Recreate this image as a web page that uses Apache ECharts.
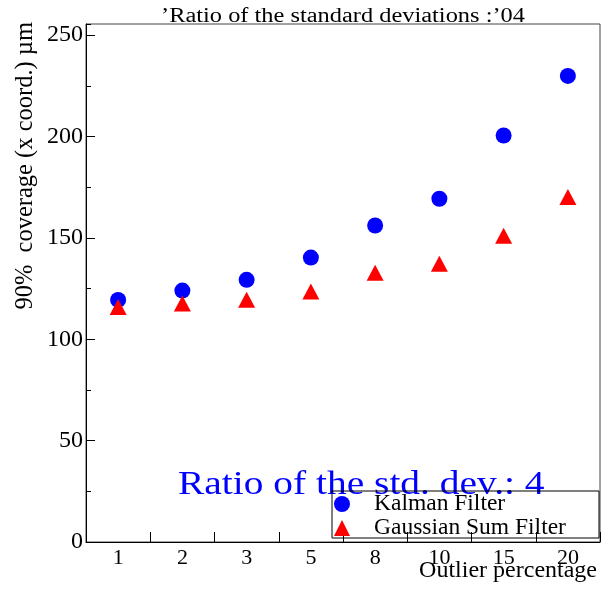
<!DOCTYPE html>
<html>
<head>
<meta charset="utf-8">
<script src="https://cdn.jsdelivr.net/npm/echarts@6/dist/echarts.min.js"></script>
<style>
html,body{margin:0;padding:0;background:#fff;}
#chart{width:601px;height:590px;}
</style>
</head>
<body>
<div id="chart"></div>
<script>
var categories = ['1', '2', '3', '5', '8', '10', '15', '20'];
var kalmanValues = [119.4, 124.0, 129.3, 140.3, 156.1, 169.3, 200.5, 229.9];
var gsfValues = [115.9, 117.6, 119.5, 123.6, 132.8, 137.3, 151.1, 170.2];
var seriesNames = ['Kalman Filter', 'Gaussian Sum Filter'];
var titleText = "\u2019Ratio of the standard deviations :\u201904";
var yTitle = '90%  coverage (x coord.) \u00b5m';
var xTitle = 'Outlier percentage';
var noteText = 'Ratio of the std. dev.: 4';

var FONT = 'Liberation Serif';
var chart = echarts.init(document.getElementById('chart'), null, {renderer: 'canvas'});
var yMin = 0, yMax = 255.5;

chart.setOption({
  animation: false,
  backgroundColor: '#fff',
  grid: {left: 86, right: 1, top: 24, bottom: 48, show: true, borderColor: '#444', borderWidth: 1, backgroundColor: 'transparent'},
  xAxis: {
    type: 'category',
    data: categories,
    boundaryGap: true,
    axisLine: {show: true, lineStyle: {color: '#000', width: 1}},
    axisTick: {show: true, inside: true, length: 10, alignWithLabel: false, lineStyle: {color: '#000'}},
    axisLabel: {fontFamily: FONT, fontSize: 22, color: '#000', margin: 5},
    splitLine: {show: false}
  },
  yAxis: [{
    type: 'value',
    min: yMin, max: yMax, interval: 50,
    axisLine: {show: true, lineStyle: {color: '#000', width: 1}},
    axisTick: {show: true, inside: true, length: 9, lineStyle: {color: '#000'}},
    axisLabel: {fontFamily: FONT, fontSize: 24, color: '#000', margin: 3, showMaxLabel: false},
    splitLine: {show: false}
  }, {
    type: 'value',
    position: 'left',
    min: yMin, max: yMax, interval: 25,
    axisLine: {show: false},
    axisTick: {show: true, inside: true, length: 5, lineStyle: {color: '#000'}},
    axisLabel: {show: false},
    splitLine: {show: false}
  }],
  legend: {
    orient: 'vertical',
    left: 334, top: 492,
    padding: 0,
    itemWidth: 16, itemHeight: 16, itemGap: 0,
    data: [
      {name: seriesNames[0], icon: 'circle'},
      {name: seriesNames[1], icon: 'triangle'}
    ],
    formatter: function (n) { return '{p|' + n + '}'; },
    textStyle: {
      rich: {p: {fontFamily: FONT, fontSize: 23.5, color: '#000', padding: [0, 0, 0, 19], lineHeight: 22}}
    }
  },
  graphic: [
    {type: 'text', x: 343, y: 17, scaleX: 1.22, z: 100,
      style: {text: titleText, fontFamily: FONT, fontSize: 20, fill: '#000', textAlign: 'center', textVerticalAlign: 'middle'}},
    {type: 'text', x: 26, y: 22, rotation: Math.PI / 2, z: 100,
      style: {text: yTitle, fontFamily: FONT, fontSize: 24.5, fill: '#000', textAlign: 'right', textVerticalAlign: 'middle'}},
    {type: 'text', x: 597, y: 571, z: 100,
      style: {text: xTitle, fontFamily: FONT, fontSize: 24, fill: '#000', textAlign: 'right', textVerticalAlign: 'middle'}},
    {type: 'text', x: 178, y: 485, scaleX: 1.16, z: 1,
      style: {text: noteText, fontFamily: FONT, fontSize: 34, fill: '#0000ff', textAlign: 'left', textVerticalAlign: 'middle'}},
    {type: 'rect', z: 50, shape: {x: 332, y: 491, width: 267, height: 47},
      style: {fill: 'none', stroke: '#000', lineWidth: 1}}
  ],
  series: [{
    name: seriesNames[0],
    type: 'scatter',
    data: kalmanValues,
    symbol: 'circle',
    symbolSize: 16,
    itemStyle: {color: '#0000ff', opacity: 1},
    z: 5
  }, {
    name: seriesNames[1],
    type: 'scatter',
    data: gsfValues,
    symbol: 'triangle',
    symbolSize: [17, 16],
    itemStyle: {color: '#ff0000', opacity: 1},
    z: 6
  }]
});
</script>
</body>
</html>
